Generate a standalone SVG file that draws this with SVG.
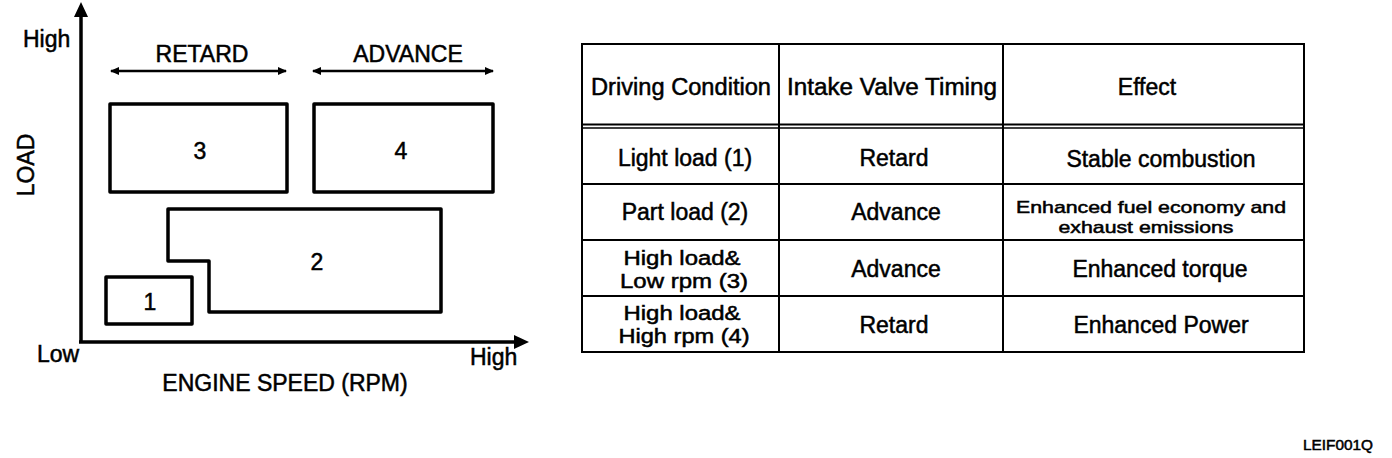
<svg xmlns="http://www.w3.org/2000/svg" width="1392" height="458" viewBox="0 0 1392 458">
<style>
text{font-family:"Liberation Sans",Arial,Helvetica,sans-serif;fill:#000;stroke:#000;stroke-width:0.5}
.l{font-size:23px}
.t2{font-size:20px}
.m{text-anchor:middle}
.sm{font-size:17px}
.tiny{font-size:14px}
.box{fill:none;stroke:#000;stroke-width:3.5;stroke-linejoin:round}
.ax{fill:none;stroke:#000;stroke-width:3.5}
.arr{fill:none;stroke:#000;stroke-width:2.5}
.tb{fill:none;stroke:#000;stroke-width:2}
</style>
<defs>
<marker id="axHead" viewBox="0 0 15 14" refX="1" refY="7" markerWidth="15" markerHeight="14" markerUnits="userSpaceOnUse" orient="auto">
<path d="M0,0 L15,7 L0,14 z" fill="#000"/>
</marker>
<marker id="dbl" viewBox="0 0 9 8" refX="8" refY="4" markerWidth="9" markerHeight="8" markerUnits="userSpaceOnUse" orient="auto-start-reverse">
<path d="M0,0 L9,4 L0,8 z" fill="#000"/>
</marker>
</defs>
<rect width="1392" height="458" fill="#fff"/>
<g id="connectors">
<line class="ax" x1="81" y1="343" x2="81" y2="16" marker-end="url(#axHead)"/>
<line class="ax" x1="79" y1="342" x2="515" y2="342" marker-end="url(#axHead)"/>
<line class="arr" x1="111" y1="71" x2="286" y2="71" marker-start="url(#dbl)" marker-end="url(#dbl)"/>
<line class="arr" x1="313" y1="71" x2="493" y2="71" marker-start="url(#dbl)" marker-end="url(#dbl)"/>
</g>
<g id="axis-labels">
<text class="l" x="23" y="47">High</text>
<text class="l m" transform="translate(34,165) rotate(-90)">LOAD</text>
<text class="l" x="37" y="362">Low</text>
<text class="l" x="470" y="365">High</text>
<text class="l m" x="285" y="391">ENGINE SPEED (RPM)</text>
<text class="l m" x="202" y="62">RETARD</text>
<text class="l m" x="408" y="62">ADVANCE</text>
</g>
<g id="region3">
<rect class="box" x="110" y="104" width="177" height="88"/>
<text class="l m" x="200" y="159">3</text>
</g>
<g id="region4">
<rect class="box" x="314" y="104" width="179" height="88"/>
<text class="l m" x="401" y="159">4</text>
</g>
<g id="region2">
<path class="box" d="M168,209 L441,209 L441,312 L209,312 L209,261 L168,261 Z"/>
<text class="l m" x="317" y="270">2</text>
</g>
<g id="region1">
<rect class="box" x="106" y="277" width="86" height="47"/>
<text class="l m" x="150" y="310">1</text>
</g>
<g id="table">
<rect class="tb" x="582" y="44" width="722" height="308"/>
<line class="tb" x1="779" y1="44" x2="779" y2="352"/>
<line class="tb" x1="1003" y1="44" x2="1003" y2="352"/>
<line class="tb" x1="582" y1="124.5" x2="1304" y2="124.5"/>
<line class="tb" x1="582" y1="128" x2="1304" y2="128" style="stroke-width:1.5"/>
<line class="tb" x1="582" y1="184" x2="1304" y2="184"/>
<line class="tb" x1="582" y1="240" x2="1304" y2="240"/>
<line class="tb" x1="582" y1="296" x2="1304" y2="296"/>
<text class="l m" x="681" y="95" textLength="180" lengthAdjust="spacingAndGlyphs">Driving Condition</text>
<text class="l m" x="892" y="95" textLength="210" lengthAdjust="spacingAndGlyphs">Intake Valve Timing</text>
<text class="l m" x="1147" y="95">Effect</text>
<text class="l m" x="685" y="166">Light load (1)</text>
<text class="l m" x="894" y="166">Retard</text>
<text class="l m" x="1161" y="167">Stable combustion</text>
<text class="l m" x="685" y="220">Part load (2)</text>
<text class="l m" x="896" y="220">Advance</text>
<text class="sm m" x="1151" y="213" textLength="270" lengthAdjust="spacingAndGlyphs">Enhanced fuel economy and</text>
<text class="sm m" x="1146" y="233" textLength="175" lengthAdjust="spacingAndGlyphs">exhaust emissions</text>
<text class="t2 m" x="682" y="265" textLength="117" lengthAdjust="spacingAndGlyphs">High load&amp;</text>
<text class="t2 m" x="684" y="288" textLength="128" lengthAdjust="spacingAndGlyphs">Low rpm (3)</text>
<text class="l m" x="896" y="277">Advance</text>
<text class="l m" x="1160" y="277">Enhanced torque</text>
<text class="t2 m" x="682" y="320" textLength="117" lengthAdjust="spacingAndGlyphs">High load&amp;</text>
<text class="t2 m" x="684" y="343" textLength="131" lengthAdjust="spacingAndGlyphs">High rpm (4)</text>
<text class="l m" x="894" y="333">Retard</text>
<text class="l m" x="1161" y="333">Enhanced Power</text>
</g>
<text class="tiny" x="1303" y="450" textLength="70" lengthAdjust="spacingAndGlyphs">LEIF001Q</text>
</svg>
